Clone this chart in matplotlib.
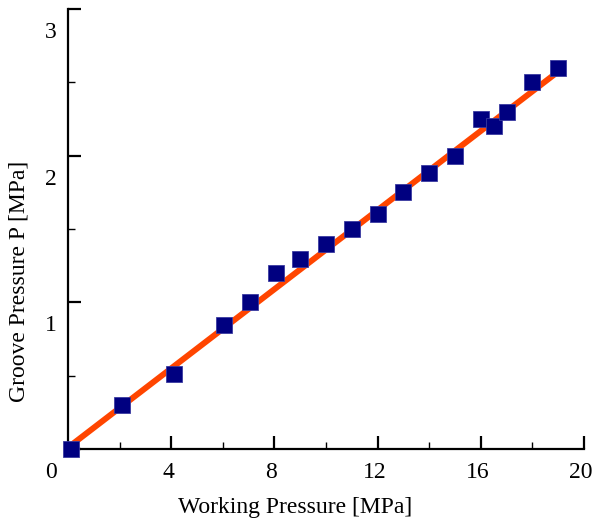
import numpy as np
import matplotlib.pyplot as plt
import matplotlib.transforms as mtransforms
from matplotlib.ticker import MultipleLocator

# measured groove pressure vs working pressure
working_p = [0.1, 2.1, 4.1, 6.05, 7.05, 8.05, 9.0, 10.0, 11.0, 12.0, 13.0, 14.0,
             15.0, 16.0, 16.5, 17.0, 18.0, 19.0]
groove_p = [0.0, 0.30, 0.51, 0.845, 1.00, 1.20, 1.295, 1.40, 1.50, 1.60, 1.75, 1.88,
            2.00, 2.25, 2.20, 2.295, 2.50, 2.60]

# linear fit endpoints
fit_x = [0.0, 18.9]
fit_y = [0.01, 2.56]

plt.rcParams.update({
    "font.family": "serif",
    "font.serif": ["Liberation Serif", "DejaVu Serif"],
    "font.size": 17,
})

fig = plt.figure(figsize=(5.93, 5.23), dpi=100)
ax = fig.add_axes([68 / 593, 1 - 449 / 523, 516 / 593, 440 / 523])

ax.plot(fit_x, fit_y, color='#ff4500', lw=4.3, solid_capstyle='butt', zorder=2)
ax.plot(working_p, groove_p, 's', color='#000080', ms=11.5, mec='#3a3aa0', mew=0.6, zorder=3,
        clip_on=False)

ax.set_xlim(0, 20)
ax.set_ylim(0, 3)
for s in ['top', 'right']:
    ax.spines[s].set_visible(False)
for s in ['left', 'bottom']:
    ax.spines[s].set_linewidth(1.6)

ax.xaxis.set_major_locator(MultipleLocator(4))
ax.xaxis.set_minor_locator(MultipleLocator(2))
ax.yaxis.set_major_locator(MultipleLocator(1))
ax.yaxis.set_minor_locator(MultipleLocator(0.5))
ax.tick_params(which='major', direction='in', length=9.5, width=1.6)
ax.tick_params(which='minor', direction='in', length=5, width=1.0)
ax.tick_params(axis='x', which='major', pad=9)
ax.tick_params(axis='y', which='major', pad=8)

ax.set_xticks([4, 8, 12, 16, 20])
ax.set_xticklabels(['4', '8', '12', '16', '20'])
ax.set_yticks([0, 1, 2, 3])
ax.set_yticklabels(['0', '1', '2', '3'])

# y labels sit a little below their ticks, x labels a touch to the left
yshift = mtransforms.ScaledTranslation(0, -21 / 100, fig.dpi_scale_trans)
for lbl in ax.get_yticklabels():
    lbl.set_transform(lbl.get_transform() + yshift)
xshift = mtransforms.ScaledTranslation(-3 / 100, 0, fig.dpi_scale_trans)
for lbl in ax.get_xticklabels():
    lbl.set_transform(lbl.get_transform() + xshift)

ax.set_xlabel('Working Pressure [MPa]')
ax.set_ylabel('Groove Pressure P [MPa]')
ax.xaxis.set_label_coords(0.44, -0.11)
ax.yaxis.set_label_coords(-0.074, 0.38)

fig.savefig('out.png', dpi=100)
